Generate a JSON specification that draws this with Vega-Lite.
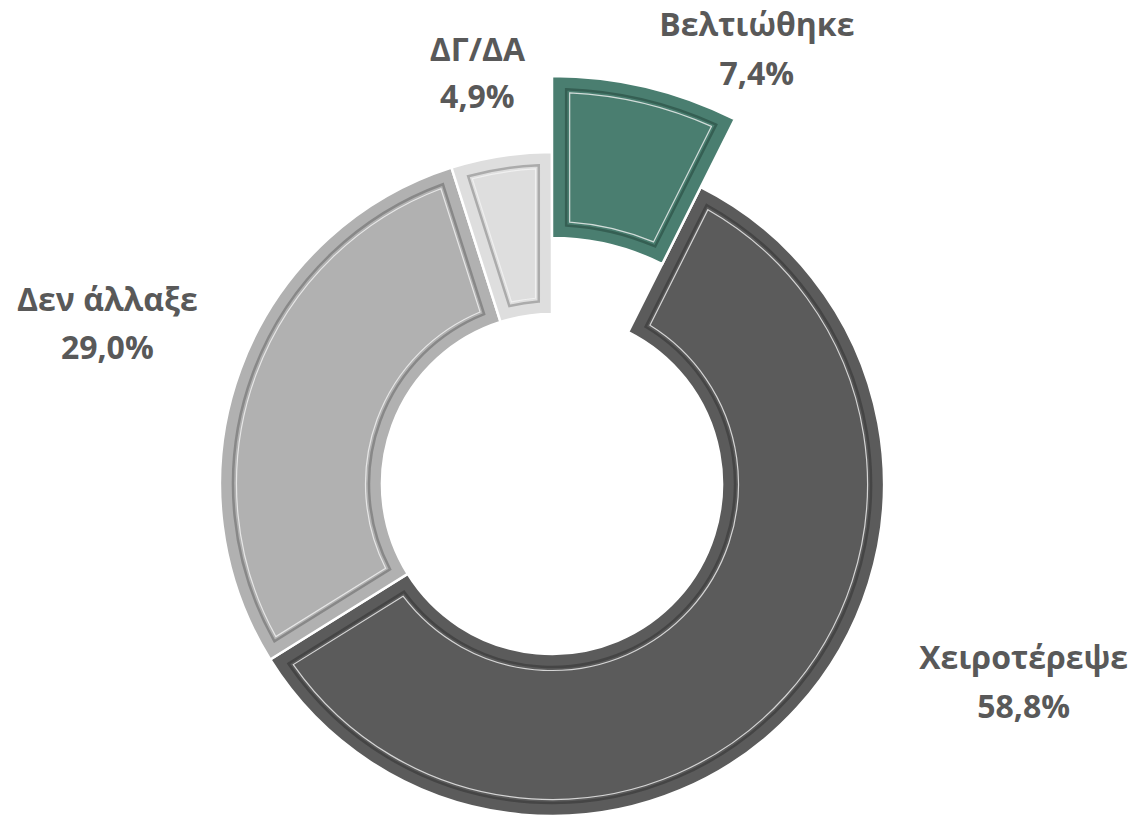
{
  "$schema": "https://vega.github.io/schema/vega-lite/v6.json",
  "width": 1104,
  "height": 686,
  "autosize": "none",
  "padding": {"left": 0, "top": 141, "right": 36, "bottom": 0},
  "background": "white",
  "config": {"view": {"stroke": null}},
  "data": {
    "values": [
      {"category": "Βελτιώθηκε", "value": 7.4},
      {"category": "Χειροτέρεψε", "value": 58.8},
      {"category": "Δεν άλλαξε", "value": 29.0},
      {"category": "ΔΓ/ΔΑ", "value": 4.9}
    ]
  },
  "transform": [
    {"window": [{"op": "row_number", "as": "idx"}]},
    {"stack": "value", "groupby": [], "sort": [{"field": "idx", "order": "ascending"}], "as": ["v0", "v1"]},
    {"calculate": "(datum.v0 + datum.v1) / 2", "as": "vm"},
    {"calculate": "[datum.category, replace(format(datum.value, '.1f'), '.', ',') + '%']", "as": "label"}
  ],
  "layer": [
    {
      "transform": [{"filter": "datum.category !== 'Βελτιώθηκε'"}],
      "mark": {"type": "arc", "radius": 332, "radius2": 170, "stroke": "white", "strokeWidth": 2.5},
      "encoding": {
        "theta": {"field": "v0", "type": "quantitative", "scale": {"domain": [0, 100.1]}},
        "theta2": {"field": "v1"},
        "fill": {"field": "category", "type": "nominal", "legend": null,
          "scale": {"domain": ["Βελτιώθηκε", "Χειροτέρεψε", "Δεν άλλαξε", "ΔΓ/ΔΑ"], "range": ["#4a7e70", "#5b5b5b", "#b1b1b1", "#dedede"]}}
      }
    },
    {
      "transform": [{"filter": "datum.category === 'Βελτιώθηκε'"}],
      "mark": {"type": "arc", "radius": 408, "radius2": 246, "stroke": "white", "strokeWidth": 2.5},
      "encoding": {
        "theta": {"field": "v0", "type": "quantitative", "scale": {"domain": [0, 100.1]}},
        "theta2": {"field": "v1"},
        "fill": {"field": "category", "type": "nominal", "legend": null}
      }
    },
    {
      "transform": [{"filter": "datum.category !== 'Βελτιώθηκε'"}],
      "mark": {"type": "arc", "radius": 319, "radius2": 183, "padAngle": 0.072, "fillOpacity": 0, "strokeWidth": 2.5},
      "encoding": {
        "theta": {"field": "v0", "type": "quantitative", "scale": {"domain": [0, 100.1]}},
        "theta2": {"field": "v1"},
        "stroke": {"field": "category", "type": "nominal", "legend": null,
          "scale": {"domain": ["Βελτιώθηκε", "Χειροτέρεψε", "Δεν άλλαξε", "ΔΓ/ΔΑ"], "range": ["#355f53", "#454545", "#888888", "#ababab"]}}
      }
    },
    {
      "transform": [{"filter": "datum.category === 'Βελτιώθηκε'"}],
      "mark": {"type": "arc", "radius": 395, "radius2": 259, "padAngle": 0.06, "fillOpacity": 0, "strokeWidth": 2.5},
      "encoding": {
        "theta": {"field": "v0", "type": "quantitative", "scale": {"domain": [0, 100.1]}},
        "theta2": {"field": "v1"},
        "stroke": {"field": "category", "type": "nominal", "legend": null}
      }
    },
    {
      "transform": [{"filter": "datum.category !== 'Βελτιώθηκε'"}],
      "mark": {"type": "arc", "radius": 315.5, "radius2": 186.5, "padAngle": 0.09, "fillOpacity": 0, "stroke": "#f4f4f4", "strokeWidth": 1.2, "strokeOpacity": 0.8},
      "encoding": {
        "theta": {"field": "v0", "type": "quantitative", "scale": {"domain": [0, 100.1]}},
        "theta2": {"field": "v1"}
      }
    },
    {
      "transform": [{"filter": "datum.category === 'Βελτιώθηκε'"}],
      "mark": {"type": "arc", "radius": 391.5, "radius2": 262.5, "padAngle": 0.075, "fillOpacity": 0, "stroke": "#f4f4f4", "strokeWidth": 1.2, "strokeOpacity": 0.8},
      "encoding": {
        "theta": {"field": "v0", "type": "quantitative", "scale": {"domain": [0, 100.1]}},
        "theta2": {"field": "v1"}
      }
    },
    {
      "transform": [{"filter": "datum.category === 'Βελτιώθηκε'"}],
      "mark": {"type": "text", "radius": 502, "thetaOffset": 0.188, "font": "Open Sans", "fontWeight": "bold", "fontSize": 32, "lineHeight": 49, "color": "#595959", "align": "center", "baseline": "middle"},
      "encoding": {
        "theta": {"field": "vm", "type": "quantitative", "scale": {"domain": [0, 100.1]}},
        "text": {"field": "label"}
      }
    },
    {
      "transform": [{"filter": "datum.category === 'Χειροτέρεψε'"}],
      "mark": {"type": "text", "radius": 503, "thetaOffset": -0.384, "font": "Open Sans", "fontWeight": "bold", "fontSize": 32, "lineHeight": 49, "color": "#595959", "align": "center", "baseline": "middle"},
      "encoding": {
        "theta": {"field": "vm", "type": "quantitative", "scale": {"domain": [0, 100.1]}},
        "text": {"field": "label"}
      }
    },
    {
      "transform": [{"filter": "datum.category === 'Δεν άλλαξε'"}],
      "mark": {"type": "text", "radius": 481, "thetaOffset": 0.038, "font": "Open Sans", "fontWeight": "bold", "fontSize": 32, "lineHeight": 48, "color": "#595959", "align": "center", "baseline": "middle"},
      "encoding": {
        "theta": {"field": "vm", "type": "quantitative", "scale": {"domain": [0, 100.1]}},
        "text": {"field": "label"}
      }
    },
    {
      "transform": [{"filter": "datum.category === 'ΔΓ/ΔΑ'"}],
      "mark": {"type": "text", "radius": 439, "thetaOffset": -0.017, "font": "Open Sans", "fontWeight": "bold", "fontSize": 32, "lineHeight": 47, "color": "#595959", "align": "center", "baseline": "middle"},
      "encoding": {
        "theta": {"field": "vm", "type": "quantitative", "scale": {"domain": [0, 100.1]}},
        "text": {"field": "label"}
      }
    }
  ]
}
